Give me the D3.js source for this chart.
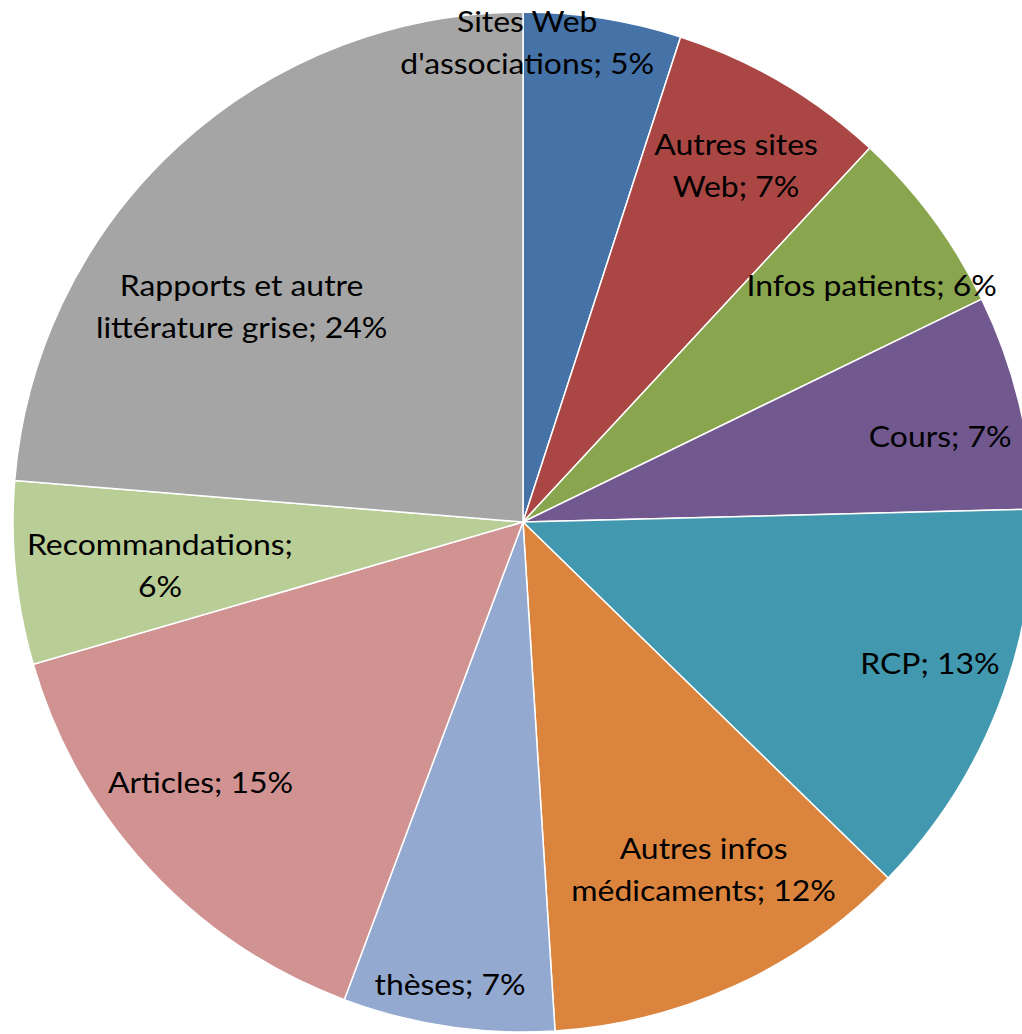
<!DOCTYPE html>
<html>
<head>
<meta charset="utf-8">
<script src="https://cdn.jsdelivr.net/npm/d3@7/dist/d3.min.js"></script>
<style>
  html, body { margin: 0; padding: 0; background: #fff; }
  svg { display: block; }
</style>
</head>
<body>
<div id="chart"></div>
<script>
// data (share of each source, in %)
const categories = [
    "Sites Web d'associations",
    "Autres sites Web",
    "Infos patients",
    "Cours",
    "RCP",
    "Autres infos médicaments",
    "thèses",
    "Articles",
    "Recommandations",
    "Rapports et autre littérature grise"
];
const values = [5.0, 6.9, 5.9, 6.8, 12.7, 11.7, 6.7, 14.8, 5.8, 23.7];
const colors = ["#4572a7", "#aa4643", "#89a54e", "#71588f", "#4198af",
                "#db843d", "#93a9cf", "#d19392", "#b9cd96", "#a5a5a5"];

// label layout: words on first line (0 = one line), radius fraction, angle nudge (deg)
const wrapAfter = [2, 2, 0, 0, 0, 2, 0, 0, 1, 3];
const labelPos = [[0.94, -8.5], [0.813, 0.5], [0.826, 2.4], [0.835, 2.1], [0.845, -2.2],
                  [0.768, -2.8], [0.919, 0.5], [0.813, 3.9], [0.717, -1.1], [0.695, -9.9]];

const width = 1022, height = 1034;
const cx = 523, cy = 522, radius = 510;

const svg = d3.select("#chart")
              .append("svg")
              .attr("width", width)
              .attr("height", height);

const g = svg.append("g").attr("transform", `translate(${cx},${cy})`);

const total = d3.sum(values);
const pie = d3.pie().sort(null).value(d => d.value);
const arcs = pie(categories.map((c, i) => ({name: c, value: values[i], i: i})));

const arc = d3.arc().innerRadius(0).outerRadius(radius);

g.append("g")
 .selectAll("path")
 .data(arcs)
 .join("path")
 .attr("d", arc)
 .attr("fill", d => colors[d.data.i])
 .attr("stroke", "#fff")
 .attr("stroke-width", 1.5)
 .attr("stroke-linejoin", "round");

const lineH = 42;

const label = g.append("g")
               .attr("font-family", "Lato, 'Open Sans', sans-serif")
               .attr("font-size", 29)
               .attr("fill", "#000")
               .attr("text-anchor", "middle")
               .selectAll("text")
               .data(arcs)
               .join("text")
               .attr("transform", d => {
                   const p = labelPos[d.data.i];
                   const a = (d.startAngle + d.endAngle) / 2 + p[1] * Math.PI / 180;
                   const r = radius * p[0];
                   // glyphs in the original are a little wider than Lato
                   return `translate(${r * Math.sin(a)},${-r * Math.cos(a)}) scale(1.1,1)`;
               });

label.each(function(d) {
    const pct = Math.round(d.data.value / total * 100);
    const words = (d.data.name + "; " + pct + "%").split(" ");
    const n = wrapAfter[d.data.i];
    const lines = n ? [words.slice(0, n).join(" "), words.slice(n).join(" ")] : [words.join(" ")];
    const t = d3.select(this);
    lines.forEach((l, k) => {
        t.append("tspan")
         .attr("x", 0)
         .attr("y", (k - (lines.length - 1) / 2) * lineH)
         .attr("dy", "0.35em")
         .text(l);
    });
});
</script>
</body>
</html>
